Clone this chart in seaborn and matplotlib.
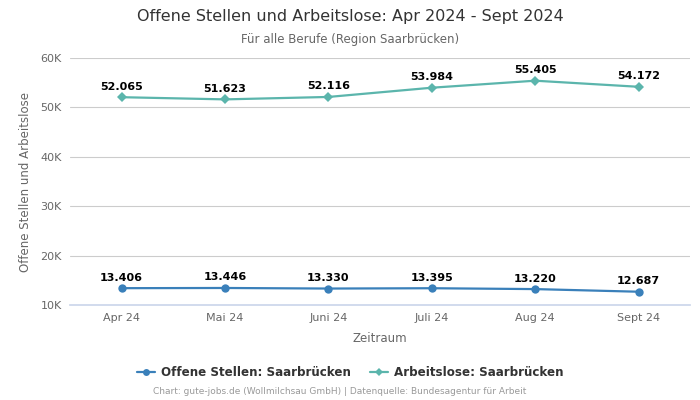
import numpy as np
import pandas as pd
import matplotlib
matplotlib.use('Agg')
import matplotlib.pyplot as plt
import seaborn as sns
from matplotlib.ticker import FuncFormatter
from matplotlib.lines import Line2D

# ===================== Daten =====================
monate = ['Apr 24', 'Mai 24', 'Juni 24', 'Juli 24', 'Aug 24', 'Sept 24']
offene_stellen = [13406, 13446, 13330, 13395, 13220, 12687]
arbeitslose = [52065, 51623, 52116, 53984, 55405, 54172]

BLAU = '#3a80ba'
TUERKIS = '#5bb5ac'

sns.set_theme(style='white')
plt.rcParams['font.family'] = ['DejaVu Sans']

df = pd.DataFrame({
    'Zeitraum': monate * 2,
    'Wert': offene_stellen + arbeitslose,
    'Serie': ['Offene Stellen: Saarbrücken'] * 6 + ['Arbeitslose: Saarbrücken'] * 6,
})

fig = plt.figure(figsize=(7, 4), dpi=100)
ax = fig.add_axes([0.1, 0.2375, 0.886, 0.6175])

sns.lineplot(data=df, x='Zeitraum', y='Wert', hue='Serie', style='Serie',
             palette=[BLAU, TUERKIS], markers=['o', 'D'], dashes=False,
             markersize=6, linewidth=1.6, sort=False, ax=ax, legend=False,
             markeredgewidth=0)
# Diamant-Marker etwas kleiner
for line in ax.get_lines()[1:2]:
    line.set_markersize(4.8)

ax.set_ylim(10000, 60000)
ax.set_xlim(-0.5, 5.5)
ax.set_yticks(range(10000, 60001, 10000))
ax.yaxis.set_major_formatter(FuncFormatter(lambda v, p: f'{int(v/1000)}K'))
ax.grid(axis='y', color='#cccccc', linewidth=0.8)
ax.set_axisbelow(True)
for s in ['top', 'right', 'left']:
    ax.spines[s].set_visible(False)
ax.spines['bottom'].set_color('#ccd6eb')
ax.tick_params(axis='both', colors='#666666', labelsize=8, length=0, pad=6)

ax.set_xlabel('Zeitraum', fontsize=8.5, color='#666666', labelpad=6)
ax.set_ylabel('Offene Stellen und Arbeitslose', fontsize=8.5, color='#666666', labelpad=6)

def fmt(v):
    return f'{v:,}'.replace(',', '.')

for i, v in enumerate(offene_stellen):
    ax.annotate(fmt(v), (i, v), xytext=(0, 4), textcoords='offset points',
                ha='center', va='bottom', fontsize=8, fontweight='bold', color='black')
for i, v in enumerate(arbeitslose):
    ax.annotate(fmt(v), (i, v), xytext=(0, 4), textcoords='offset points',
                ha='center', va='bottom', fontsize=8, fontweight='bold', color='black')

fig.text(0.5, 0.958, 'Offene Stellen und Arbeitslose: Apr 2024 - Sept 2024',
         ha='center', va='center', fontsize=11.5, color='#333333')
fig.text(0.5, 0.902, 'Für alle Berufe (Region Saarbrücken)',
         ha='center', va='center', fontsize=8.5, color='#666666')

handles = [Line2D([0], [0], color=BLAU, marker='o', markersize=5, markeredgewidth=0, linewidth=1.6),
           Line2D([0], [0], color=TUERKIS, marker='D', markersize=4, markeredgewidth=0, linewidth=1.6)]
leg = fig.legend(handles, ['Offene Stellen: Saarbrücken', 'Arbeitslose: Saarbrücken'],
                 loc='center', bbox_to_anchor=(0.5, 0.068), ncol=2, frameon=False,
                 prop={'weight': 'bold', 'size': 8.6}, handlelength=1.5,
                 columnspacing=1.6, handletextpad=0.5)
for t in leg.get_texts():
    t.set_color('#333333')

fig.text(0.485, 0.02, 'Chart: gute-jobs.de (Wollmilchsau GmbH) | Datenquelle: Bundesagentur für Arbeit',
         ha='center', va='center', fontsize=6.5, color='#999999')

fig.savefig('out.png', dpi=100)
